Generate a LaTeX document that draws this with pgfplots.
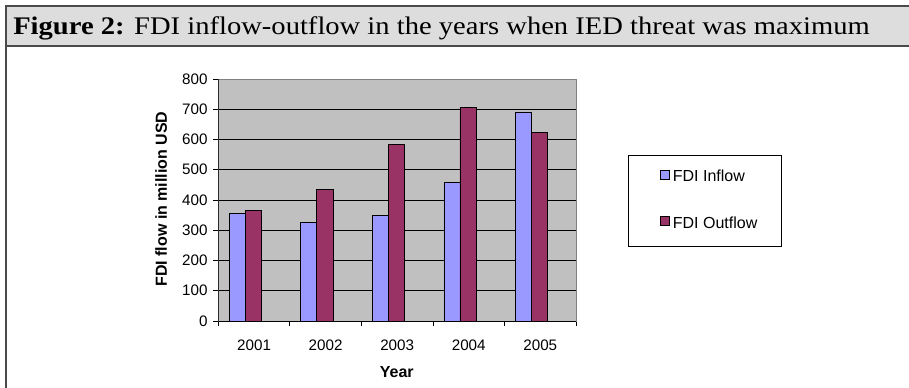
\documentclass[border=0pt]{standalone}
\usepackage{pgfplots}
\pgfplotsset{compat=1.18}
\usepackage{fontspec}
\setmainfont{Liberation Sans}
\newfontfamily\titlefont[FakeStretch=1.128]{Liberation Serif}
\definecolor{inflow}{HTML}{9999FF}
\definecolor{outflow}{HTML}{993366}
\definecolor{plotbg}{HTML}{C0C0C0}
\definecolor{framegray}{HTML}{4A4A4A}
\definecolor{titlebar}{HTML}{DDDDDD}
\definecolor{boxgray}{HTML}{808080}

\begin{document}
\begin{tikzpicture}
% page frame and caption bar (1 unit = 1 px)
\begin{scope}[x=0.75pt,y=-0.75pt]
  \useasboundingbox (0,0) rectangle (909,388);
  \fill[titlebar] (6,6) rectangle (909,46);
  \draw[framegray, line width=1pt] (909,6) -- (6,6) -- (6,388);
  \draw[framegray, line width=1pt] (6,46) -- (909,46);
  \node[anchor=base west, inner sep=0pt, font=\titlefont\fontsize{19}{22}\selectfont]
    at (13,35) {\textbf{Figure 2:} FDI inflow-outflow in the years when IED threat was maximum};
\end{scope}

\begin{axis}[
  at={(163.725pt,-240.75pt)}, anchor=south west,
  scale only axis, width=268.3pt, height=181.5pt,
  xmin=-0.5, xmax=4.5, ymin=0, ymax=800,
  xtick={-0.5,0.5,...,4.5},
  x tick label as interval,
  xticklabels={2001,2002,2003,2004,2005},
  ytick={0,100,...,800},
  tick pos=left,
  tick align=outside,
  major tick length=3.75pt,
  tick style={black, line width=0.6pt},
  ymajorgrids,
  grid style={black, line width=0.6pt},
  axis background/.style={fill=plotbg},
  axis line style={boxgray, line width=0.6pt},
  /pgf/number format/assume math mode=true,
  ticklabel style={font=\fontsize{11.4}{13}\selectfont},
  xticklabel style={yshift=-7.2pt},
  yticklabel style={xshift=-0.8pt},
  xlabel={Year},
  ylabel={FDI flow in million USD},
  label style={font=\bfseries\fontsize{12}{14}\selectfont},
  xlabel style={at={(axis description cs:0.499,-0.2095)}, anchor=center},
  ylabel style={at={(axis description cs:-0.160,0.504)}, anchor=center, rotate=0},
  legend image code/.code={
    \path (-5.5pt,0pt);
    \draw[#1, line width=0.6pt] (0pt,-1.05pt) rectangle (6.75pt,5.7pt);
  },
  legend cell align=left,
  legend style={at={(1.1446,0.686)}, anchor=north west,
    draw=black, line width=0.6pt, fill=white,
    inner xsep=18.2pt, inner ysep=10.9pt,
    row sep=23.3pt, column sep=2.5pt,
    font=\fontsize{12}{14}\selectfont,
    nodes={inner sep=0pt, text height=8.6pt, text depth=2.56pt}},
]
\addplot[ybar, bar width=0.224, bar shift=-0.234, fill=inflow, draw=black, line width=0.6pt]
  coordinates {(0,356) (1,327) (2,348) (3,459) (4,691)};
\addlegendentry{FDI Inflow}
\addplot[ybar, bar width=0.224, bar shift=-0.010, fill=outflow, draw=black, line width=0.6pt]
  coordinates {(0,364) (1,435) (2,583) (3,707) (4,624)};
\addlegendentry{FDI Outflow}
% solid left and bottom axis lines over the grey plot-area border
\draw[black, line width=0.6pt] (rel axis cs:0,1) -- (rel axis cs:0,0) -- (rel axis cs:1,0);
\end{axis}
\end{tikzpicture}
\end{document}
